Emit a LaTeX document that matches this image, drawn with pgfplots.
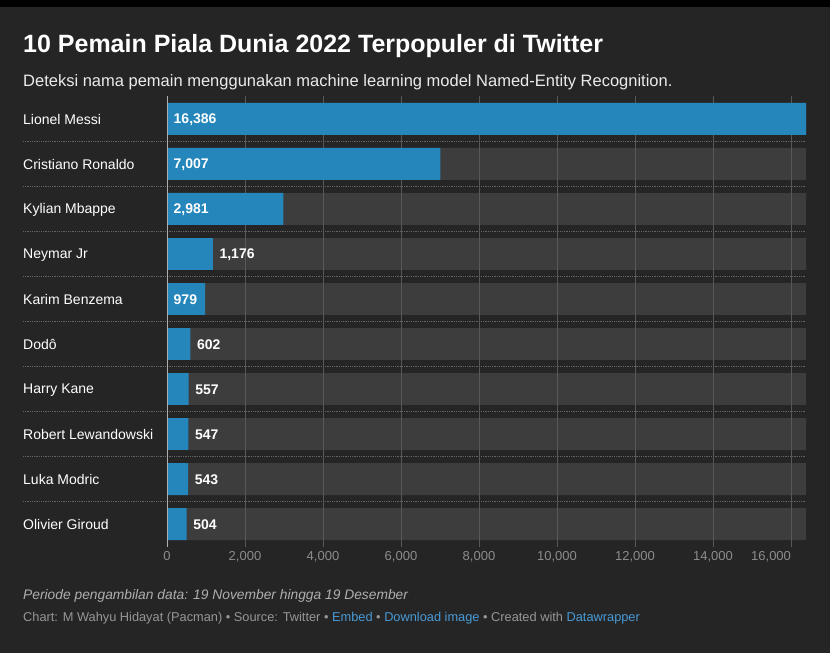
\documentclass[border=0pt]{standalone}
\usepackage{fontspec}
\setmainfont{Liberation Sans}
\usepackage{pgfplots}
\usepackage{pgfplotstable}
\pgfplotsset{compat=1.18}
\definecolor{bg}{RGB}{37,37,37}
\definecolor{trackc}{RGB}{61,61,61}
\definecolor{barc}{RGB}{36,134,186}
\definecolor{gridc}{RGB}{88,88,88}
\definecolor{sepc}{RGB}{100,100,100}
\definecolor{tickc}{RGB}{140,140,140}
\definecolor{basec}{RGB}{175,175,175}
\definecolor{footc}{RGB}{150,150,150}
\definecolor{notec}{RGB}{175,175,175}
\definecolor{linkc}{RGB}{72,154,214}

\pgfplotstableread{
y v
0 16386
1 7007
2 2981
3 1176
4 979
5 602
6 557
7 547
8 543
9 504
}\counts

\pgfplotstableread{
y v
0 16386
1 16386
2 16386
3 16386
4 16386
5 16386
6 16386
7 16386
8 16386
9 16386
}\tracks

\pgfplotstableread{
y pos label
0 0 16,386
1 0 7,007
2 0 2,981
3 1176 1,176
4 0 979
5 602 602
6 557 557
7 547 547
8 543 543
9 504 504
}\valuelabels

\pgfplotsset{
  frame/.style={
    at={(167bp,106.5bp)}, anchor=south west,
    scale only axis, width=639bp, height=450bp,
    xmin=0, xmax=16386, ymin=-0.5, ymax=9.5, y dir=reverse,
    clip=false, scaled x ticks=false,
    axis line style={draw=none}, major tick length=0pt,
  }
}

\begin{document}
\begin{tikzpicture}
\fill[bg] (0,0) rectangle (830bp,653bp);
\fill[black] (0,646bp) rectangle (830bp,653bp);
\node[anchor=base west, inner sep=0pt, text=white, font=\fontsize{25bp}{30bp}\selectfont\bfseries] at (23bp,600bp) {10 Pemain Piala Dunia 2022 Terpopuler di Twitter};
\node[anchor=base west, inner sep=0pt, text=white!92!black, font=\fontsize{16.5bp}{20bp}\selectfont] at (23bp,566bp) {Deteksi nama pemain menggunakan machine learning model Named-Entity Recognition.};

% tracks and row separators (behind the grid)
\begin{axis}[frame, xtick=\empty, ytick=\empty]
\addplot[xbar, bar shift=0pt, bar width=0.711, fill=trackc, draw=none] table[x=v, y=y] {\tracks};
\pgfplotsinvokeforeach{0.5,1.5,2.5,3.5,4.5,5.5,6.5,7.5,8.5}{
  \addplot[sepc, densely dotted, line width=0.8bp] coordinates {(-3692,#1) (16386,#1)};
}
\end{axis}

% grid, bars, labels
\begin{axis}[frame,
  xtick={0,2000,4000,6000,8000,10000,12000,14000,16000},
  xticklabels={0,{2,000},{4,000},{6,000},{8,000},{10,000},{12,000},{14,000},{\makebox[0pt][r]{16,000}}},
  xticklabel style={text=tickc, font=\fontsize{13bp}{15bp}\selectfont, inner sep=0pt, yshift=-5bp},
  ytick={0,...,9},
  yticklabels={Lionel Messi,Cristiano Ronaldo,Kylian Mbappe,Neymar Jr,Karim Benzema,Dodô,Harry Kane,Robert Lewandowski,Luka Modric,Olivier Giroud},
  yticklabel style={anchor=west, inner sep=0pt, xshift=-144bp, yshift=-0.8bp, text=white, font=\fontsize{14bp}{16bp}\selectfont},
  xmajorgrids, major x grid style={gridc, line width=0.9bp},
]
\addplot[xbar, bar shift=0pt, bar width=0.711, fill=barc, draw=none] table[x=v, y=y] {\counts};
\addplot[basec, line width=0.9bp] coordinates {(0,-0.5) (0,9.5)};
\addplot[draw=none, mark=none, nodes near coords, point meta=explicit symbolic,
  nodes near coords style={anchor=west, inner sep=0pt, xshift=6.5bp, yshift=-0.8bp, text=white, font=\fontsize{14bp}{16bp}\selectfont\bfseries}]
  table[x=pos, y=y, meta=label] {\valuelabels};
\end{axis}

\node[anchor=base west, inner sep=0pt, text=notec, font=\fontsize{13.8bp}{16bp}\selectfont\itshape] at (23bp,53bp) {Periode pengambilan data: 19 November hingga 19 Desember};
\node[anchor=base west, inner sep=0pt, font=\fontsize{12.8bp}{15bp}\selectfont, text=footc] at (23bp,32bp) {Chart: M Wahyu Hidayat (Pacman) • Source: Twitter • {\color{linkc}Embed} • {\color{linkc}Download image} • Created with {\color{linkc}Datawrapper}};
\end{tikzpicture}
\end{document}
